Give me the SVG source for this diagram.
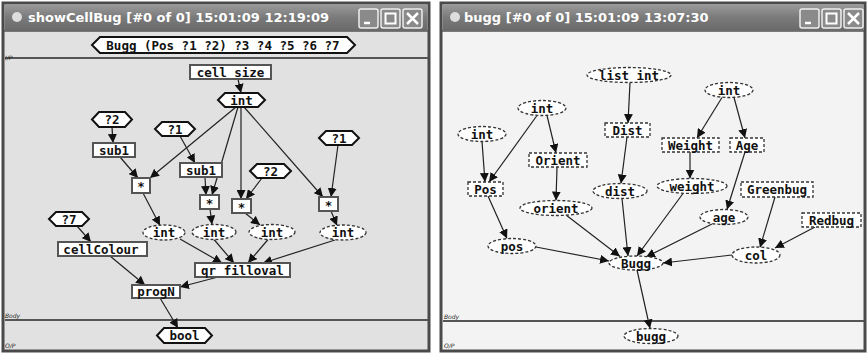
<svg xmlns="http://www.w3.org/2000/svg" width="868" height="354" viewBox="0 0 868 354">
<defs>
<linearGradient id="tb" x1="0" y1="0" x2="0" y2="1">
<stop offset="0" stop-color="#9a9a9a"/><stop offset="0.5" stop-color="#7a7a7a"/><stop offset="1" stop-color="#6a6a6a"/>
</linearGradient>
<marker id="ah" viewBox="0 0 10 10" refX="10" refY="5" markerWidth="9" markerHeight="9" markerUnits="userSpaceOnUse" orient="auto">
<path d="M0,0 L10,5 L0,10 z" fill="#111"/>
</marker>
<g id="btns">
<rect x="0" y="0" width="19" height="19" rx="2" fill="#8a8a8a" stroke="#eee" stroke-width="1.5"/>
<rect x="22" y="0" width="19" height="19" rx="2" fill="#8a8a8a" stroke="#eee" stroke-width="1.5"/>
<rect x="44" y="0" width="19" height="19" rx="2" fill="#8a8a8a" stroke="#eee" stroke-width="1.5"/>
<path d="M5,14 H11" stroke="#fff" stroke-width="2.5"/>
<rect x="26.5" y="4.5" width="10" height="10" fill="none" stroke="#fff" stroke-width="2"/>
<path d="M48,4 L59,15 M59,4 L48,15" stroke="#fff" stroke-width="2.5"/>
</g>
</defs>
<style>
.t{font-family:"DejaVu Sans Mono","Liberation Mono",monospace;font-size:12.5px;font-weight:bold;fill:#111;text-anchor:middle;dominant-baseline:central}
.title{font-family:"DejaVu Sans","Liberation Sans",sans-serif;font-size:13px;font-weight:bold;fill:#fff}
.tiny{font-family:"DejaVu Sans","Liberation Sans",sans-serif;font-size:6px;fill:#222;font-style:italic}
.hex{fill:#fff;stroke:#111;stroke-width:2}
.box{fill:#fff;stroke:#555;stroke-width:2}
.dr{fill:#fff;stroke:#333;stroke-width:1.3;stroke-dasharray:3 2}
.e{stroke:#222;stroke-width:1.2;fill:none;marker-end:url(#ah)}
.sep{stroke:#555;stroke-width:2}
</style>
<rect width="868" height="354" fill="#fff"/>
<!-- left window -->
<rect x="3" y="3" width="426" height="348" fill="#e1e1e1" stroke="#4a4a4a" stroke-width="3"/>
<rect x="4.5" y="4.5" width="423" height="26" fill="url(#tb)"/>
<line x1="4" y1="31" x2="428" y2="31" stroke="#555" stroke-width="1.5"/>
<circle cx="17" cy="17" r="5" fill="#ddd"/>
<text class="title" x="28" y="22">showCellBug [#0 of 0]  15:01:09 12:19:09</text>
<use href="#btns" x="359" y="9"/>
<line class="sep" x1="5" y1="58" x2="428" y2="58"/>
<line class="sep" x1="5" y1="320" x2="428" y2="320"/>
<text class="tiny" x="5" y="60">I/P</text>
<text class="tiny" x="5" y="318">Body</text>
<text class="tiny" x="5" y="348">O/P</text>
<!-- right window -->
<rect x="441" y="3" width="424" height="348" fill="#f3f3f3" stroke="#4a4a4a" stroke-width="3"/>
<rect x="442.5" y="4.5" width="421" height="26" fill="url(#tb)"/>
<line x1="442" y1="31" x2="864" y2="31" stroke="#555" stroke-width="1.5"/>
<circle cx="455" cy="17" r="5" fill="#ddd"/>
<text class="title" x="464" y="22">bugg [#0 of 0]  15:01:09 13:07:30</text>
<use href="#btns" x="800" y="9"/>
<line class="sep" x1="443" y1="321" x2="864" y2="321"/>
<text class="tiny" x="444" y="319">Body</text>
<text class="tiny" x="444" y="348">O/P</text>

<g id="edges">
<!-- left -->
<line class="e" x1="238" y1="79" x2="241" y2="93"/>
<line class="e" x1="236" y1="107" x2="150" y2="178"/>
<line class="e" x1="238" y1="107" x2="212" y2="195"/>
<line class="e" x1="241" y1="107" x2="241" y2="199"/>
<line class="e" x1="244" y1="107" x2="323" y2="197"/>
<line class="e" x1="112" y1="127" x2="113" y2="143"/>
<line class="e" x1="120" y1="157" x2="138" y2="178"/>
<line class="e" x1="180" y1="136" x2="195" y2="163"/>
<line class="e" x1="205" y1="177" x2="206" y2="195"/>
<line class="e" x1="262" y1="178" x2="246" y2="199"/>
<line class="e" x1="338" y1="145" x2="331" y2="197"/>
<line class="e" x1="143" y1="193" x2="160" y2="225.5"/>
<line class="e" x1="210" y1="209" x2="212" y2="224.5"/>
<line class="e" x1="245" y1="213" x2="260" y2="225"/>
<line class="e" x1="331" y1="211" x2="337" y2="225.5"/>
<line class="e" x1="77" y1="226" x2="91" y2="242"/>
<line class="e" x1="180" y1="239" x2="222" y2="263"/>
<line class="e" x1="214" y1="239.5" x2="234" y2="263"/>
<line class="e" x1="268" y1="239.5" x2="248" y2="263"/>
<line class="e" x1="335" y1="240" x2="263" y2="263"/>
<line class="e" x1="110" y1="256" x2="145" y2="285"/>
<line class="e" x1="218" y1="277" x2="180" y2="287"/>
<line class="e" x1="160" y1="298" x2="178" y2="328"/>
<!-- right -->
<line class="e" x1="630" y1="82.5" x2="628" y2="123"/>
<line class="e" x1="627" y1="137" x2="621" y2="183.5"/>
<line class="e" x1="547" y1="115.5" x2="556" y2="153"/>
<line class="e" x1="537" y1="115.5" x2="489" y2="182"/>
<line class="e" x1="482" y1="141.5" x2="485" y2="182"/>
<line class="e" x1="557" y1="167" x2="556" y2="200.5"/>
<line class="e" x1="488" y1="196" x2="507" y2="238.5"/>
<line class="e" x1="566" y1="215" x2="620" y2="256.5"/>
<line class="e" x1="622" y1="198.5" x2="628" y2="256"/>
<line class="e" x1="683" y1="193.5" x2="637" y2="256"/>
<line class="e" x1="712" y1="224" x2="646" y2="257"/>
<line class="e" x1="732" y1="255" x2="663" y2="263"/>
<line class="e" x1="536" y1="247" x2="609" y2="261"/>
<line class="e" x1="722" y1="97.5" x2="697" y2="138"/>
<line class="e" x1="734" y1="97.5" x2="745" y2="138"/>
<line class="e" x1="690" y1="152" x2="690" y2="178.5"/>
<line class="e" x1="745" y1="152" x2="727" y2="209.5"/>
<line class="e" x1="775" y1="197" x2="760" y2="247.5"/>
<line class="e" x1="815" y1="227" x2="775" y2="248"/>
<line class="e" x1="637" y1="270" x2="650" y2="328.5"/>
</g>

<!-- left nodes -->
<g id="n-bugg-in"><polygon class="hex" points="92,45 100,37 347,37 355,45 347,53 100,53"/><text class="t" x="223" y="45">Bugg (Pos ?1 ?2) ?3 ?4 ?5 ?6 ?7</text></g>
<g id="n-cellsize"><rect class="box" x="190" y="65" width="81" height="14"/><text class="t" x="230.5" y="72">cell size</text></g>
<g id="n-int"><polygon class="hex" points="218,100 225,93 258,93 265,100 258,107 225,107"/><text class="t" x="241.5" y="100">int</text></g>
<g id="n-q2a"><polygon class="hex" points="92,119.5 99,112 125,112 132,119.5 125,127 99,127"/><text class="t" x="112" y="119.5">?2</text></g>
<g id="n-sub1a"><rect class="box" x="93" y="143" width="42" height="14"/><text class="t" x="114" y="150">sub1</text></g>
<g id="n-q1a"><polygon class="hex" points="155,129 162,122 188,122 195,129 188,136 162,136"/><text class="t" x="175" y="129">?1</text></g>
<g id="n-mul1"><rect class="box" x="132" y="178" width="18" height="15"/><text class="t" x="141" y="186">*</text></g>
<g id="n-sub1b"><rect class="box" x="180" y="163" width="42" height="14"/><text class="t" x="201" y="170">sub1</text></g>
<g id="n-mul2"><rect class="box" x="200" y="195" width="19" height="14"/><text class="t" x="209.5" y="203">*</text></g>
<g id="n-q2b"><polygon class="hex" points="250,171 257,164 284,164 291,171 284,178 257,178"/><text class="t" x="270.5" y="171">?2</text></g>
<g id="n-mul3"><rect class="box" x="232" y="199" width="19" height="14"/><text class="t" x="241.5" y="207">*</text></g>
<g id="n-q1b"><polygon class="hex" points="319,138 326,131 352,131 359,138 352,145 326,145"/><text class="t" x="339" y="138">?1</text></g>
<g id="n-mul4"><rect class="box" x="319" y="197" width="19" height="14"/><text class="t" x="328.5" y="205">*</text></g>
<g id="n-q7"><polygon class="hex" points="49,219 56,212 82,212 89,219 82,226 56,226"/><text class="t" x="69" y="219">?7</text></g>
<g id="n-cellcolour"><rect class="box" x="58" y="242" width="89" height="14"/><text class="t" x="101" y="249">cellColour</text></g>
<g id="n-int1"><ellipse class="dr" cx="164" cy="232.5" rx="21" ry="7.5"/><text class="t" x="164" y="232.5">int</text></g>
<g id="n-int2"><ellipse class="dr" cx="214" cy="232" rx="22" ry="7.5"/><text class="t" x="214" y="232">int</text></g>
<g id="n-int3"><ellipse class="dr" cx="272" cy="232" rx="23" ry="7.5"/><text class="t" x="272" y="232">int</text></g>
<g id="n-int4"><ellipse class="dr" cx="343" cy="232.5" rx="23" ry="7.5"/><text class="t" x="343" y="232.5">int</text></g>
<g id="n-qrfill"><rect class="box" x="195" y="263" width="95" height="14"/><text class="t" x="242.5" y="270">qr filloval</text></g>
<g id="n-progn"><rect class="box" x="132" y="285" width="48" height="13"/><text class="t" x="156" y="291.5">progN</text></g>
<g id="n-bool"><polygon class="hex" points="157,335.5 164,328 205,328 212,335.5 205,343 164,343"/><text class="t" x="184.5" y="335.5">bool</text></g>

<!-- right nodes -->
<g id="r-listint"><ellipse class="dr" cx="629" cy="75" rx="42" ry="7.5"/><text class="t" x="629" y="75">list int</text></g>
<g id="r-int-r"><ellipse class="dr" cx="729" cy="90" rx="24" ry="7.5"/><text class="t" x="729" y="90">int</text></g>
<g id="r-int-m"><ellipse class="dr" cx="542" cy="108" rx="24" ry="7.5"/><text class="t" x="542" y="108">int</text></g>
<g id="r-int-l"><ellipse class="dr" cx="482" cy="134" rx="24" ry="7.5"/><text class="t" x="482" y="134">int</text></g>
<g id="r-Dist"><rect class="dr" x="605" y="123" width="45" height="14"/><text class="t" x="627.5" y="130">Dist</text></g>
<g id="r-Orient"><rect class="dr" x="529" y="153" width="58" height="14"/><text class="t" x="558" y="160">Orient</text></g>
<g id="r-Pos"><rect class="dr" x="468" y="182" width="35" height="14"/><text class="t" x="485.5" y="189">Pos</text></g>
<g id="r-dist"><ellipse class="dr" cx="620" cy="191" rx="27" ry="7.5"/><text class="t" x="620" y="191">dist</text></g>
<g id="r-orient"><ellipse class="dr" cx="556" cy="208" rx="36" ry="7.5"/><text class="t" x="556" y="208">orient</text></g>
<g id="r-Weight"><rect class="dr" x="662" y="138" width="57" height="14"/><text class="t" x="690.5" y="145">Weight</text></g>
<g id="r-Age"><rect class="dr" x="730" y="138" width="34" height="14"/><text class="t" x="747" y="145">Age</text></g>
<g id="r-weight"><ellipse class="dr" cx="692" cy="186" rx="35" ry="7.5"/><text class="t" x="692" y="186">weight</text></g>
<g id="r-Greenbug"><rect class="dr" x="741" y="182" width="72" height="15"/><text class="t" x="777" y="189.5">Greenbug</text></g>
<g id="r-age"><ellipse class="dr" cx="724" cy="217" rx="24" ry="7.5"/><text class="t" x="724" y="217">age</text></g>
<g id="r-Redbug"><rect class="dr" x="802" y="213" width="59" height="14"/><text class="t" x="831.5" y="220">Redbug</text></g>
<g id="r-pos"><ellipse class="dr" cx="512" cy="246" rx="24" ry="7.5"/><text class="t" x="512" y="246">pos</text></g>
<g id="r-Bugg"><ellipse class="dr" cx="636" cy="263" rx="27" ry="7"/><text class="t" x="636" y="263">Bugg</text></g>
<g id="r-col"><ellipse class="dr" cx="756" cy="255" rx="24" ry="8"/><text class="t" x="756" y="255">col</text></g>
<g id="r-bugg"><ellipse class="dr" cx="651" cy="336" rx="27" ry="7.5"/><text class="t" x="651" y="336">bugg</text></g>
</svg>
